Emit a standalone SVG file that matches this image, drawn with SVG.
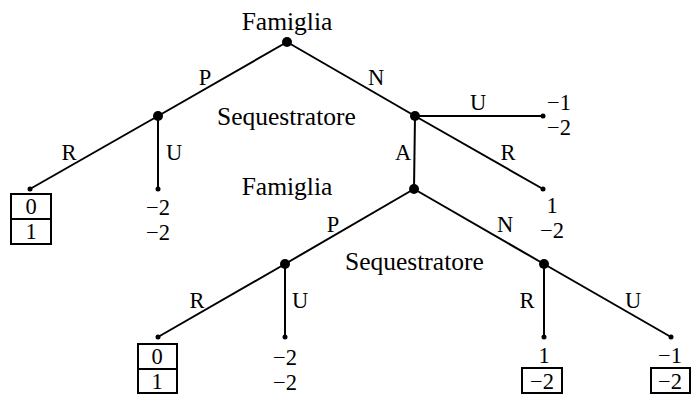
<svg xmlns="http://www.w3.org/2000/svg" width="692" height="395" viewBox="0 0 692 395">
<style>
.e{stroke:#000;stroke-width:2;fill:none}
.t{font-family:"Liberation Serif","Times New Roman",serif;font-size:22.5px;fill:#000}
.n{font-family:"Liberation Serif","Times New Roman",serif;font-size:25.5px;fill:#000}
.m{text-anchor:middle}
.b{fill:none;stroke:#000;stroke-width:2}
</style>
<rect width="692" height="395" fill="#fff"/>
<g id="connectors">
<line class="e" x1="287" y1="42" x2="158" y2="116"/>
<line class="e" x1="287" y1="42" x2="415" y2="116"/>
<line class="e" x1="158" y1="116" x2="30" y2="189"/>
<line class="e" x1="158" y1="116" x2="158" y2="189"/>
<line class="e" x1="415" y1="116" x2="543" y2="116"/>
<line class="e" x1="415" y1="116" x2="543" y2="189"/>
<line class="e" x1="415" y1="116" x2="414" y2="189"/>
<line class="e" x1="414" y1="189" x2="285" y2="264"/>
<line class="e" x1="414" y1="189" x2="544" y2="264"/>
<line class="e" x1="285" y1="264" x2="158" y2="337"/>
<line class="e" x1="285" y1="264" x2="285" y2="337"/>
<line class="e" x1="544" y1="264" x2="544" y2="337"/>
<line class="e" x1="544" y1="264" x2="671" y2="337"/>
<text class="t" x="205" y="85" text-anchor="middle">P</text>
<text class="t" x="376" y="85" text-anchor="middle">N</text>
<text class="t" x="69" y="160" text-anchor="middle">R</text>
<text class="t" x="174" y="160" text-anchor="middle">U</text>
<text class="t" x="478" y="110" text-anchor="middle">U</text>
<text class="t" x="403" y="160" text-anchor="middle">A</text>
<text class="t" x="508" y="160" text-anchor="middle">R</text>
<text class="t" x="333" y="232" text-anchor="middle">P</text>
<text class="t" x="505" y="232" text-anchor="middle">N</text>
<text class="t" x="197" y="308" text-anchor="middle">R</text>
<text class="t" x="300" y="308" text-anchor="middle">U</text>
<text class="t" x="527" y="308" text-anchor="middle">R</text>
<text class="t" x="633" y="308" text-anchor="middle">U</text>
</g>
<g id="n-root">
<circle cx="287" cy="42" r="5"/>
<text class="n m" x="287" y="30">Famiglia</text>
</g>
<g id="n-seq1">
<circle cx="158" cy="116" r="5"/>
<text class="n" x="217" y="125">Sequestratore</text>
</g>
<g id="n-seq2">
<circle cx="415" cy="116" r="5"/>
</g>
<g id="n-fam2">
<circle cx="414" cy="189" r="5"/>
<text class="n m" x="287" y="195">Famiglia</text>
</g>
<g id="n-seq3">
<circle cx="285" cy="264" r="5"/>
</g>
<g id="n-seq4">
<circle cx="544" cy="264" r="5"/>
<text class="n" x="345" y="270">Sequestratore</text>
</g>
<g id="leaf1">
<circle cx="30" cy="189" r="2.5"/>
<rect class="b" x="11" y="194" width="40" height="25"/>
<rect class="b" x="11" y="219" width="40" height="25"/>
<text class="t m" x="31" y="214">0</text>
<text class="t m" x="31" y="239">1</text>
</g>
<g id="leaf2">
<circle cx="158" cy="189" r="2.5"/>
<text class="t m" x="158" y="215">−2</text>
<text class="t m" x="158" y="240">−2</text>
</g>
<g id="leaf3">
<circle cx="543" cy="116" r="2.5"/>
<text class="t m" x="559" y="110">−1</text>
<text class="t m" x="559" y="135">−2</text>
</g>
<g id="leaf4">
<circle cx="543" cy="189" r="2.5"/>
<text class="t m" x="552" y="213">1</text>
<text class="t m" x="552" y="238">−2</text>
</g>
<g id="leaf5">
<circle cx="158" cy="337" r="2.5"/>
<rect class="b" x="138" y="344" width="39" height="25"/>
<rect class="b" x="138" y="369" width="39" height="24"/>
<text class="t m" x="157" y="364">0</text>
<text class="t m" x="157" y="389">1</text>
</g>
<g id="leaf6">
<circle cx="285" cy="337" r="2.5"/>
<text class="t m" x="285" y="365">−2</text>
<text class="t m" x="285" y="390">−2</text>
</g>
<g id="leaf7">
<circle cx="544" cy="337" r="2.5"/>
<text class="t m" x="544" y="363">1</text>
<rect class="b" x="522" y="368" width="40" height="25"/>
<text class="t m" x="542" y="389">−2</text>
</g>
<g id="leaf8">
<circle cx="671" cy="337" r="2.5"/>
<text class="t m" x="670" y="363">−1</text>
<rect class="b" x="651" y="368" width="39" height="25"/>
<text class="t m" x="670" y="389">−2</text>
</g>
</svg>
